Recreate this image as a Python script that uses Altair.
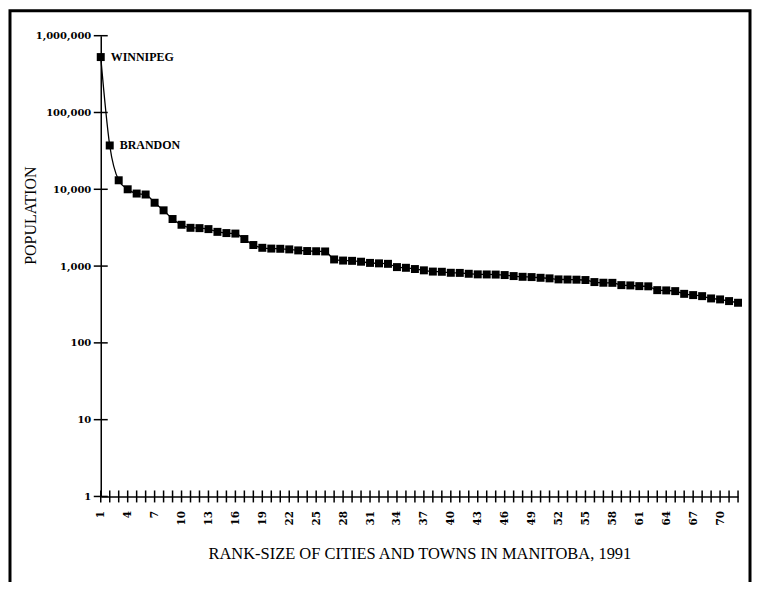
import altair as alt
import pandas as pd

ranks = list(range(1, 73))
population = [527000, 37200, 13100, 10000, 8800, 8550, 6680, 5320, 4100, 3450,
              3150, 3120, 3030, 2790, 2690, 2650, 2250, 1880, 1730, 1690,
              1680, 1650, 1600, 1570, 1560, 1550, 1220, 1180, 1170, 1140,
              1100, 1085, 1070, 970, 950, 915, 880, 848, 843, 818,
              815, 794, 780, 778, 775, 764, 741, 725, 719, 704,
              692, 671, 668, 665, 658, 619, 607, 605, 565, 560,
              548, 545, 486, 482, 472, 435, 419, 406, 379, 368, 350, 333]
label_names = ["WINNIPEG", "BRANDON"]
label_ranks = [1, 2]
y_ticks = [1, 10, 100, 1000, 10000, 100000, 1000000]
x_label_ranks = list(range(1, 71, 3))

W, H = 639, 462
SERIF = "Liberation Serif"
LABEL_FONT = "DejaVu Serif"

df = pd.DataFrame({"rank": ranks, "population": population})
lab = pd.DataFrame({"rank": label_ranks,
                    "population": [population[r - 1] for r in label_ranks],
                    "name": label_names})
yt = pd.DataFrame({"population": y_ticks})

xs = alt.Scale(domain=[1, 72], nice=False, zero=False)
ys = alt.Scale(type="log", domain=[1, 1000000], nice=False)

x_axis = alt.Axis(
    values=x_label_ranks, labelAngle=270, ticks=False, grid=False,
    labelOverlap=False, labelSeparation=0, labelBound=False,
    domainColor="black", domainWidth=1.5, labelPadding=14,
    labelFont=LABEL_FONT, labelFontSize=10.5, labelFontWeight="bold", labelColor="black",
    title="RANK-SIZE OF CITIES AND TOWNS IN MANITOBA, 1991",
    titleFont=SERIF, titleFontSize=16.5, titleFontWeight="normal", titleColor="black",
    titleY=57, titleBaseline="middle")
y_axis = alt.Axis(
    values=y_ticks, format=",", ticks=False, grid=False, labelOverlap=False,
    domainColor="black", domainWidth=1.5, labelPadding=10,
    labelFont=LABEL_FONT, labelFontSize=10, labelFontWeight="bold", labelColor="black",
    title="POPULATION", titleFont=SERIF, titleFontSize=16, titleFontWeight="normal",
    titleColor="black", titleAngle=270, titleX=-62, titleY=180)

x_enc = alt.X("rank:Q", scale=xs, axis=x_axis)
y_enc = alt.Y("population:Q", scale=ys, axis=y_axis)

line = alt.Chart(df).mark_line(color="black", strokeWidth=1.3, interpolate="monotone").encode(
    x=x_enc, y=y_enc)
pts = alt.Chart(df).mark_square(size=64, color="black", opacity=1).encode(x=x_enc, y=y_enc)
xticks = alt.Chart(df).mark_rule(color="black", strokeWidth=1.5).encode(
    x=x_enc, y=alt.value(H - 6), y2=alt.value(H + 6))
yticks = alt.Chart(yt).mark_rule(color="black", strokeWidth=1.5).encode(
    y=y_enc, x=alt.value(-7), x2=alt.value(7))
texts = alt.Chart(lab).mark_text(align="left", baseline="middle", dx=10, font=SERIF,
                                 fontSize=12, fontWeight="bold", color="black").encode(
    x=x_enc, y=y_enc, text="name:N")
frame = alt.Chart(pd.DataFrame({"a": [0]})).mark_rect(
    fill="transparent", stroke="black", strokeWidth=3).encode(
    x=alt.value(-91), x2=alt.value(651), y=alt.value(-25), y2=alt.value(553))

chart = alt.layer(line, frame, pts, xticks, yticks, texts).properties(
    width=W, height=H,
    autosize=alt.AutoSizeParams(type="none"),
    padding={"left": 93, "top": 27, "right": 14, "bottom": 85},
    background="white",
).configure_view(stroke=None)

chart.save("out.html", embed_options={"renderer": "svg", "actions": False})
